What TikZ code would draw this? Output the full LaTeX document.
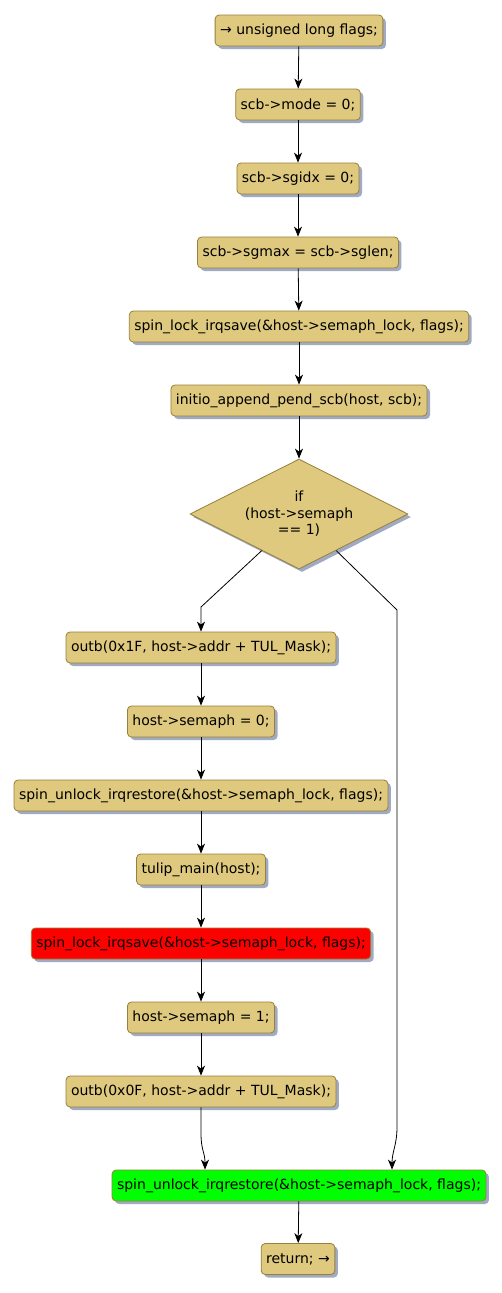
\documentclass[tikz,border=0pt]{standalone}
\usepackage{fontspec}
\setmainfont{DejaVu Sans}
\usepackage{xcolor}
\usepackage{tikz}
\usetikzlibrary{arrows.meta, shapes.geometric, shadows, calc}
\definecolor{actfill}{RGB}{222,201,126}
\definecolor{actline}{RGB}{152,128,58}
\definecolor{shadowgray}{RGB}{160,170,195}
\definecolor{lockred}{RGB}{255,0,0}
\definecolor{unlockgreen}{RGB}{0,255,0}

\begin{document}
\begin{tikzpicture}[x=1pt, y=-1pt, font=\fontsize{14}{16.5}\selectfont,
  act/.style={draw=actline, fill=actfill, rounded corners=4pt, line width=0.8pt,
    minimum height=31pt, inner xsep=5pt, inner ysep=0pt,
    drop shadow={shadow xshift=3pt, shadow yshift=-3pt, fill=shadowgray, opacity=1}},
  cond/.style={act, diamond, aspect=2, rounded corners=0pt, align=center, inner sep=0pt,
    minimum width=218pt, minimum height=110pt},
  arr/.style={-{Stealth[length=10pt, width=8pt, inset=3pt]}, line width=0.8pt}]
  \useasboundingbox (0,0) rectangle (502,1293);

  % straight part before the test
  \node[act] (flags) at (299,30.5) {→ unsigned long flags;};
  \node[act] (mode) at (298,104.5) {scb->mode = 0;};
  \node[act] (sgidx) at (298,178.5) {scb->sgidx = 0;};
  \node[act] (sgmax) at (298,252.5) {scb->sgmax = scb->sglen;};
  \node[act] (lock) at (299,326.5) {spin\_lock\_irqsave(\&host->semaph\_lock, flags);};
  \node[act] (pend) at (299,400.5) {initio\_append\_pend\_scb(host, scb);};
  \node[cond] (test) at (299,514) {if\\(host->semaph\\== 1)};

  % semaph == 1 branch
  \node[act] (outa) at (201,647.5) {outb(0x1F, host->addr + TUL\_Mask);};
  \node[act] (semz) at (201,721.5) {host->semaph = 0;};
  \node[act] (unlk) at (201,795.5) {spin\_unlock\_irqrestore(\&host->semaph\_lock, flags);};
  \node[act] (tulip) at (201,869.5) {tulip\_main(host);};
  \node[act, fill=lockred] (relock) at (201,943.5) {spin\_lock\_irqsave(\&host->semaph\_lock, flags);};
  \node[act] (semo) at (201,1017.5) {host->semaph = 1;};
  \node[act] (outb) at (201,1091.5) {outb(0x0F, host->addr + TUL\_Mask);};

  % end
  \node[act, fill=unlockgreen] (final) at (299,1185.5) {spin\_unlock\_irqrestore(\&host->semaph\_lock, flags);};
  \node[act] (ret) at (298,1259) {return; →};

  \coordinate (lbend) at (201,607);
  \coordinate (rbend) at (397,610);
  \coordinate (rdown) at (397,1127);
  \coordinate (rin) at (392,0);
  \coordinate (ldown) at (201,1133);
  \coordinate (lin) at (205,0);

  \draw[arr] (flags) -- (mode);
  \draw[arr] (mode) -- (sgidx);
  \draw[arr] (sgidx) -- (sgmax);
  \draw[arr] (sgmax) -- (lock);
  \draw[arr] (lock) -- (pend);
  \draw[arr] (pend) -- (test);
  \draw[arr] ($(test.south)!0.34!(test.west)$) -- (lbend) -- (outa);
  \draw[arr] (outa) -- (semz);
  \draw[arr] (semz) -- (unlk);
  \draw[arr] (unlk) -- (tulip);
  \draw[arr] (tulip) -- (relock);
  \draw[arr] (relock) -- (semo);
  \draw[arr] (semo) -- (outb);
  \draw[arr] (outb) -- (ldown) .. controls ($(ldown)+(0,18)$) and ($(final.north -| lin)+(0,-18)$) .. (final.north -| lin);
  \draw[arr] ($(test.south)!0.34!(test.east)$) -- (rbend) -- (rdown) .. controls ($(rdown)+(0,18)$) and ($(final.north -| rin)+(0,-18)$) .. (final.north -| rin);
  \draw[arr] (final) -- (ret);
\end{tikzpicture}
\end{document}
